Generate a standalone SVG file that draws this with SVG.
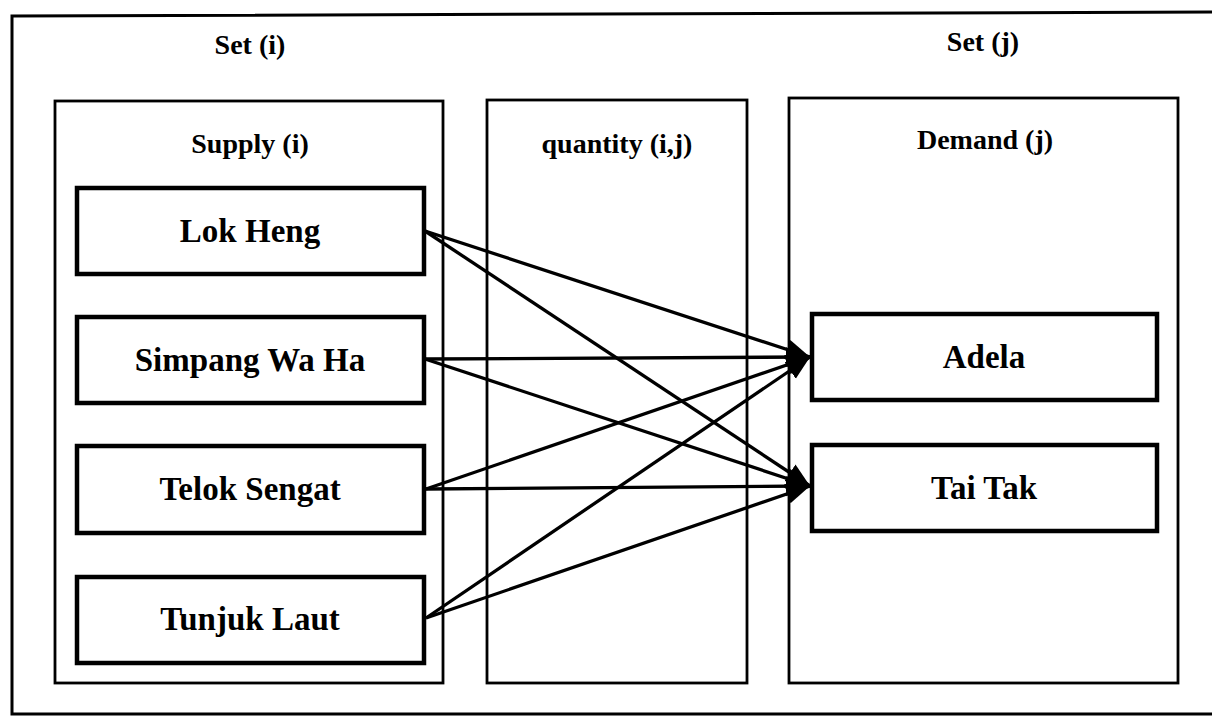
<svg xmlns="http://www.w3.org/2000/svg" width="1212" height="716" viewBox="0 0 1212 716">
<defs>
<style>
.frame{fill:none;stroke:#000;stroke-width:3}
.box{fill:none;stroke:#000;stroke-width:2.8}
.node{fill:#fff;stroke:#000;stroke-width:4.5}
.hdr{font-family:"Liberation Serif","Times New Roman",serif;font-weight:bold;font-size:28px;fill:#000;text-anchor:middle}
.lbl{font-family:"Liberation Serif","Times New Roman",serif;font-weight:bold;font-size:33px;fill:#000;text-anchor:middle}
.edge{fill:none;stroke:#000;stroke-width:3.3}
</style>
<marker id="arr" markerUnits="userSpaceOnUse" markerWidth="26" markerHeight="22" refX="24" refY="11" orient="auto">
<path d="M0,1 L24,11 L0,21 Z" fill="#000"/>
</marker>
</defs>
<rect width="1212" height="716" fill="#fff"/>
<path class="frame" d="M1212,12 L12,16 L12,714 L1212,714"/>
<text class="hdr" x="250" y="54">Set (i)</text>
<text class="hdr" x="983" y="51">Set (j)</text>
<g id="supply">
<rect class="box" x="55" y="101" width="388" height="582"/>
<text class="hdr" x="250" y="153">Supply (i)</text>
</g>
<g id="quantity">
<rect class="box" x="487" y="100" width="260" height="583"/>
<text class="hdr" x="617" y="153">quantity (i,j)</text>
</g>
<g id="demand">
<rect class="box" x="789" y="98" width="389" height="585"/>
<text class="hdr" x="985" y="149">Demand (j)</text>
</g>
<g id="connectors">
<line class="edge" x1="425" y1="231" x2="810" y2="357" marker-end="url(#arr)"/>
<line class="edge" x1="425" y1="231" x2="810" y2="486" marker-end="url(#arr)"/>
<line class="edge" x1="425" y1="359" x2="810" y2="357" marker-end="url(#arr)"/>
<line class="edge" x1="425" y1="359" x2="810" y2="486" marker-end="url(#arr)"/>
<line class="edge" x1="426" y1="489" x2="810" y2="357" marker-end="url(#arr)"/>
<line class="edge" x1="426" y1="489" x2="810" y2="486" marker-end="url(#arr)"/>
<line class="edge" x1="426" y1="618" x2="810" y2="357" marker-end="url(#arr)"/>
<line class="edge" x1="426" y1="618" x2="810" y2="486" marker-end="url(#arr)"/>
</g>
<g id="lok-heng">
<rect class="node" x="77" y="188" width="347" height="86"/>
<text class="lbl" x="250" y="242">Lok Heng</text>
</g>
<g id="simpang-wa-ha">
<rect class="node" x="77" y="317" width="347" height="86"/>
<text class="lbl" x="250" y="371">Simpang Wa Ha</text>
</g>
<g id="telok-sengat">
<rect class="node" x="77" y="446" width="347" height="87"/>
<text class="lbl" x="250" y="500">Telok Sengat</text>
</g>
<g id="tunjuk-laut">
<rect class="node" x="77" y="577" width="347" height="86"/>
<text class="lbl" x="250" y="630">Tunjuk Laut</text>
</g>
<g id="adela">
<rect class="node" x="812" y="314" width="345" height="86"/>
<text class="lbl" x="984" y="368">Adela</text>
</g>
<g id="tai-tak">
<rect class="node" x="812" y="445" width="345" height="86"/>
<text class="lbl" x="984" y="499">Tai Tak</text>
</g>
</svg>
